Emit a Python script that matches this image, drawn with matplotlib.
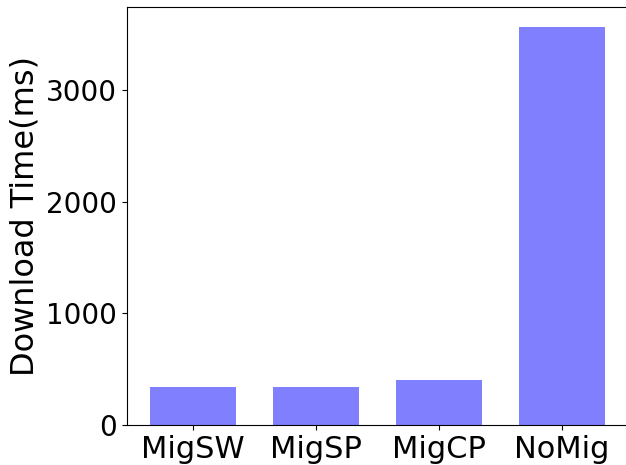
import matplotlib
matplotlib.use('Agg')
import matplotlib.pyplot as plt

labels = ['MigSW', 'MigSP', 'MigCP', 'NoMig']
times = [339, 338, 402, 3564]

fig = plt.figure(figsize=(6.26, 4.65), dpi=100)
ax = fig.add_axes([0.203, 0.086, 0.80, 0.898])
ax.bar(range(len(labels)), times, width=0.7, color='#8080ff')
ax.set_xticks(range(len(labels)))
ax.set_xticklabels(labels)
ax.set_ylabel('Download Time(ms)', fontsize=23)
ax.tick_params(axis='x', labelsize=22)
ax.tick_params(axis='y', labelsize=20)
fig.savefig('out.png', dpi=100)
